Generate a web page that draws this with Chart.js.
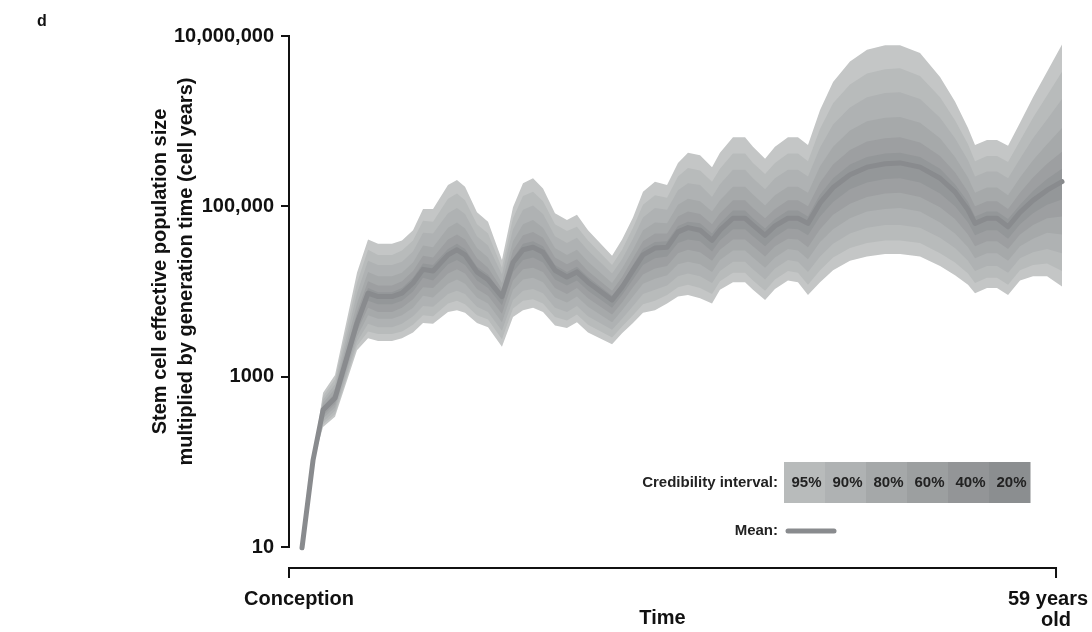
<!DOCTYPE html>
<html>
<head>
<meta charset="utf-8">
<script src="https://cdn.jsdelivr.net/npm/chart.js@4.4.1/dist/chart.umd.min.js"></script>
<style>
  html, body { margin: 0; padding: 0; background: #fff; }
  #wrap { width: 1092px; height: 632px; }
</style>
</head>
<body>
<div id="wrap"><canvas id="chartCanvas" width="1092" height="632"></canvas></div>
<script>
const timeYears = [1.0, 1.85, 2.62, 3.54, 5.23, 6.08, 6.85, 7.92, 8.69, 9.54,
  10.31, 11.08, 12.23, 12.92, 13.54, 14.46, 15.31, 16.38, 17.23, 18.0,
  18.77, 19.54, 20.46, 21.38, 22.15, 23.0, 24.85, 25.62, 26.46, 27.23,
  28.15, 29.08, 29.92, 30.69, 31.62, 32.54, 33.15, 34.15, 35.08, 35.69,
  36.62, 37.38, 38.38, 39.15, 39.92, 40.85, 41.85, 43.15, 44.46, 45.85,
  47.0, 48.54, 50.08, 51.23, 52.23, 52.77, 53.69, 54.46, 55.31, 56.23,
  57.23, 58.31, 59.46];

// all series below are log10(cell years)
const upper95 = [0.99, 2.04, 2.81, 3.02, 4.22, 4.61, 4.56, 4.56, 4.60, 4.72,
  4.97, 4.97, 5.25, 5.31, 5.23, 4.93, 4.82, 4.37, 4.99, 5.27,
  5.33, 5.21, 4.92, 4.84, 4.90, 4.72, 4.42, 4.61, 4.87, 5.17,
  5.29, 5.25, 5.51, 5.63, 5.60, 5.46, 5.63, 5.81, 5.81, 5.70,
  5.56, 5.70, 5.81, 5.81, 5.72, 6.13, 6.46, 6.70, 6.84, 6.89,
  6.89, 6.80, 6.52, 6.23, 5.92, 5.72, 5.78, 5.78, 5.71, 5.98,
  6.28, 6.58, 6.90];
const upper90 = [0.99, 2.04, 2.77, 2.97, 4.10, 4.49, 4.43, 4.43, 4.48, 4.60,
  4.83, 4.82, 5.09, 5.15, 5.07, 4.79, 4.68, 4.28, 4.86, 5.12,
  5.17, 5.06, 4.79, 4.71, 4.76, 4.60, 4.31, 4.49, 4.75, 5.02,
  5.13, 5.10, 5.35, 5.45, 5.42, 5.29, 5.44, 5.62, 5.62, 5.51,
  5.38, 5.51, 5.62, 5.62, 5.53, 5.91, 6.21, 6.43, 6.56, 6.61,
  6.62, 6.53, 6.28, 6.01, 5.73, 5.53, 5.59, 5.59, 5.52, 5.77,
  6.04, 6.30, 6.58];
const upper80 = [0.99, 2.03, 2.73, 2.91, 3.98, 4.36, 4.31, 4.31, 4.35, 4.47,
  4.69, 4.68, 4.92, 4.98, 4.91, 4.65, 4.54, 4.20, 4.73, 4.96,
  5.01, 4.91, 4.65, 4.57, 4.63, 4.48, 4.21, 4.38, 4.62, 4.87,
  4.98, 4.96, 5.19, 5.27, 5.25, 5.11, 5.26, 5.43, 5.43, 5.33,
  5.20, 5.33, 5.43, 5.43, 5.35, 5.69, 5.96, 6.16, 6.28, 6.33,
  6.34, 6.26, 6.04, 5.80, 5.54, 5.35, 5.41, 5.41, 5.33, 5.56,
  5.80, 6.02, 6.26];
const upper60 = [0.99, 2.03, 2.69, 2.86, 3.86, 4.23, 4.18, 4.18, 4.22, 4.34,
  4.54, 4.52, 4.75, 4.81, 4.74, 4.51, 4.40, 4.10, 4.59, 4.79,
  4.84, 4.75, 4.51, 4.43, 4.49, 4.35, 4.10, 4.27, 4.49, 4.72,
  4.81, 4.80, 5.02, 5.09, 5.06, 4.94, 5.07, 5.23, 5.23, 5.14,
  5.01, 5.13, 5.23, 5.23, 5.16, 5.47, 5.70, 5.89, 6.00, 6.04,
  6.05, 5.98, 5.80, 5.58, 5.34, 5.16, 5.22, 5.22, 5.13, 5.34,
  5.54, 5.73, 5.92];
const upper40 = [0.99, 2.02, 2.65, 2.81, 3.76, 4.12, 4.07, 4.07, 4.12, 4.24,
  4.42, 4.40, 4.61, 4.67, 4.61, 4.39, 4.28, 4.03, 4.48, 4.66,
  4.70, 4.63, 4.40, 4.32, 4.38, 4.24, 4.01, 4.17, 4.39, 4.59,
  4.68, 4.68, 4.88, 4.94, 4.91, 4.79, 4.92, 5.07, 5.07, 4.98,
  4.86, 4.97, 5.07, 5.07, 5.00, 5.28, 5.49, 5.66, 5.76, 5.80,
  5.81, 5.75, 5.59, 5.40, 5.17, 5.00, 5.06, 5.06, 4.97, 5.16,
  5.34, 5.50, 5.64];
const upper20 = [0.99, 2.02, 2.63, 2.77, 3.68, 4.04, 3.99, 3.99, 4.04, 4.16,
  4.33, 4.31, 4.50, 4.56, 4.50, 4.29, 4.20, 3.97, 4.39, 4.56,
  4.59, 4.53, 4.31, 4.23, 4.29, 4.17, 3.95, 4.10, 4.31, 4.50,
  4.58, 4.59, 4.77, 4.82, 4.80, 4.68, 4.80, 4.95, 4.95, 4.86,
  4.74, 4.85, 4.95, 4.95, 4.88, 5.14, 5.33, 5.49, 5.58, 5.62,
  5.63, 5.58, 5.44, 5.26, 5.05, 4.88, 4.94, 4.94, 4.85, 5.02,
  5.18, 5.32, 5.44];
const meanValues = [0.99, 2.02, 2.61, 2.75, 3.63, 3.98, 3.94, 3.94, 3.98, 4.10,
  4.26, 4.24, 4.43, 4.49, 4.43, 4.23, 4.14, 3.94, 4.34, 4.49,
  4.52, 4.46, 4.25, 4.17, 4.23, 4.11, 3.90, 4.05, 4.25, 4.43,
  4.51, 4.52, 4.70, 4.75, 4.72, 4.60, 4.72, 4.86, 4.86, 4.78,
  4.66, 4.77, 4.86, 4.86, 4.80, 5.04, 5.22, 5.37, 5.46, 5.50,
  5.51, 5.46, 5.33, 5.17, 4.96, 4.80, 4.86, 4.86, 4.76, 4.93,
  5.07, 5.19, 5.29];
const lower20 = [0.99, 2.02, 2.58, 2.71, 3.58, 3.89, 3.85, 3.85, 3.89, 4.00,
  4.16, 4.13, 4.32, 4.37, 4.31, 4.13, 4.04, 3.84, 4.23, 4.37,
  4.40, 4.34, 4.14, 4.07, 4.13, 4.01, 3.81, 3.96, 4.14, 4.31,
  4.39, 4.41, 4.57, 4.61, 4.59, 4.47, 4.60, 4.73, 4.73, 4.65,
  4.53, 4.64, 4.74, 4.73, 4.66, 4.88, 5.05, 5.20, 5.28, 5.32,
  5.33, 5.28, 5.15, 5.00, 4.81, 4.66, 4.72, 4.72, 4.62, 4.79,
  4.92, 5.02, 5.08];
const lower40 = [0.99, 2.01, 2.54, 2.68, 3.53, 3.81, 3.76, 3.76, 3.81, 3.91,
  4.05, 4.04, 4.21, 4.26, 4.21, 4.03, 3.95, 3.74, 4.13, 4.26,
  4.28, 4.23, 4.04, 3.97, 4.04, 3.92, 3.73, 3.87, 4.05, 4.20,
  4.27, 4.30, 4.45, 4.49, 4.46, 4.36, 4.49, 4.61, 4.61, 4.53,
  4.41, 4.53, 4.62, 4.61, 4.52, 4.73, 4.90, 5.03, 5.11, 5.15,
  5.16, 5.11, 4.99, 4.85, 4.67, 4.53, 4.59, 4.59, 4.50, 4.67,
  4.78, 4.86, 4.88];
const lower60 = [0.99, 2.01, 2.51, 2.64, 3.47, 3.72, 3.68, 3.68, 3.72, 3.81,
  3.95, 3.93, 4.09, 4.14, 4.09, 3.93, 3.86, 3.64, 4.02, 4.14,
  4.16, 4.11, 3.93, 3.87, 3.94, 3.82, 3.64, 3.78, 3.94, 4.09,
  4.15, 4.19, 4.32, 4.35, 4.32, 4.23, 4.37, 4.48, 4.48, 4.40,
  4.28, 4.40, 4.50, 4.48, 4.38, 4.58, 4.73, 4.86, 4.94, 4.97,
  4.98, 4.94, 4.81, 4.68, 4.52, 4.39, 4.45, 4.45, 4.36, 4.53,
  4.62, 4.69, 4.67];
const lower80 = [0.99, 2.01, 2.47, 2.60, 3.41, 3.62, 3.58, 3.58, 3.62, 3.71,
  3.83, 3.82, 3.97, 4.01, 3.97, 3.82, 3.76, 3.54, 3.90, 4.01,
  4.03, 3.98, 3.81, 3.76, 3.83, 3.71, 3.55, 3.68, 3.83, 3.97,
  4.02, 4.07, 4.18, 4.21, 4.18, 4.10, 4.24, 4.35, 4.35, 4.26,
  4.14, 4.27, 4.37, 4.35, 4.23, 4.41, 4.56, 4.68, 4.75, 4.78,
  4.78, 4.75, 4.63, 4.51, 4.36, 4.24, 4.30, 4.30, 4.22, 4.39,
  4.46, 4.50, 4.45];
const lower90 = [0.99, 2.00, 2.44, 2.56, 3.36, 3.53, 3.50, 3.50, 3.53, 3.61,
  3.72, 3.71, 3.86, 3.89, 3.85, 3.72, 3.67, 3.44, 3.80, 3.89,
  3.91, 3.86, 3.70, 3.66, 3.73, 3.61, 3.46, 3.59, 3.72, 3.85,
  3.89, 3.96, 4.05, 4.08, 4.04, 3.97, 4.12, 4.22, 4.22, 4.13,
  4.01, 4.14, 4.24, 4.22, 4.08, 4.25, 4.40, 4.51, 4.57, 4.60,
  4.60, 4.57, 4.45, 4.34, 4.21, 4.10, 4.16, 4.16, 4.08, 4.25,
  4.31, 4.33, 4.24];
const lower95 = [0.99, 2.00, 2.41, 2.53, 3.31, 3.45, 3.42, 3.42, 3.45, 3.52,
  3.63, 3.62, 3.76, 3.78, 3.75, 3.63, 3.58, 3.35, 3.70, 3.78,
  3.81, 3.76, 3.60, 3.57, 3.64, 3.52, 3.38, 3.51, 3.63, 3.75,
  3.78, 3.86, 3.94, 3.96, 3.92, 3.86, 4.02, 4.11, 4.11, 4.02,
  3.90, 4.03, 4.13, 4.11, 3.96, 4.11, 4.25, 4.36, 4.41, 4.44,
  4.44, 4.41, 4.30, 4.19, 4.08, 3.98, 4.04, 4.04, 3.96, 4.13,
  4.18, 4.18, 4.06];

const yTickValues = [10, 1000, 100000, 10000000];
const yTickLabels = ["10", "1000", "100,000", "10,000,000"];
const xTickValues = [0, 59];
const xTickLabels = ["Conception", ["59 years", "old"]];
const intervalLabels = ["95%", "90%", "80%", "60%", "40%", "20%"];
const upperBounds = [upper95, upper90, upper80, upper60, upper40, upper20];
const lowerBounds = [lower95, lower90, lower80, lower60, lower40, lower20];

// styles
const FONT = '"Liberation Sans", Arial, Helvetica, sans-serif';
const bandColors = ["#c4c6c6", "#b8bbbb", "#afb2b3", "#a6a9aa", "#9d9fa1", "#949799"];
const keyColors = ["#b8bbbb", "#afb2b3", "#a5a8a9", "#9c9fa0", "#939597", "#8b8e90"];
const meanColor = "#898b8e";

function toPoints(logs) {
  return timeYears.map((t, i) => ({ x: t, y: Math.pow(10, logs[i]) }));
}

const datasets = [];
datasets.push({
  label: "Mean",
  data: toPoints(meanValues),
  borderColor: meanColor,
  borderWidth: 5,
  borderCapStyle: "round",
  borderJoinStyle: "round",
  pointRadius: 0,
  fill: false,
  order: 0,
  clip: false,
});
intervalLabels.forEach((lab, k) => {
  datasets.push({
    label: lab + " upper",
    data: toPoints(upperBounds[k]),
    borderWidth: 0,
    pointRadius: 0,
    backgroundColor: bandColors[k],
    fill: "+1",
    order: 6 - k,
  });
  datasets.push({
    label: lab + " lower",
    data: toPoints(lowerBounds[k]),
    borderWidth: 0,
    pointRadius: 0,
    fill: false,
    order: 6 - k,
  });
});

const extras = {
  id: "extras",
  afterDraw(chart) {
    const ctx = chart.ctx;
    const xs = chart.scales.x;
    const ys = chart.scales.y;
    ctx.save();
    ctx.fillStyle = "#111";
    ctx.strokeStyle = "#111";

    // panel letter
    ctx.font = "bold 16px " + FONT;
    ctx.textAlign = "left";
    ctx.textBaseline = "alphabetic";
    ctx.fillText("d", 37, 26);

    // x axis, offset below the plot
    const axisY = ys.getPixelForValue(yTickValues[0]) + 21;
    const x0 = xs.getPixelForValue(xTickValues[0]);
    const x1 = xs.getPixelForValue(xTickValues[1]);
    ctx.lineWidth = 2;
    ctx.beginPath();
    ctx.moveTo(x0, axisY + 10);
    ctx.lineTo(x0, axisY);
    ctx.lineTo(x1, axisY);
    ctx.lineTo(x1, axisY + 10);
    ctx.stroke();

    ctx.font = "bold 20px " + FONT;
    ctx.textAlign = "center";
    ctx.fillText(xTickLabels[0], x0 + 10, axisY + 37);
    ctx.fillText(xTickLabels[1][0], x1 - 8, axisY + 37);
    ctx.fillText(xTickLabels[1][1], x1, axisY + 58);
    ctx.fillText("Time", (x0 + x1) / 2 - 10, axisY + 56);

    // y axis title
    const midY = (ys.top + ys.bottom) / 2 - 20;
    ctx.save();
    ctx.translate(160, midY);
    ctx.rotate(-Math.PI / 2);
    ctx.textBaseline = "middle";
    ctx.fillText("Stem cell effective population size", 0, 0);
    ctx.fillText("multiplied by generation time (cell years)", 0, 26);
    ctx.restore();

    // credibility interval key
    const keyX = 784, keyW = 41, keyTop = 462, keyH = 41;
    ctx.font = "bold 15px " + FONT;
    ctx.textBaseline = "middle";
    intervalLabels.forEach((lab, k) => {
      ctx.fillStyle = keyColors[k];
      ctx.fillRect(keyX + k * keyW, keyTop, keyW + 0.5, keyH);
      ctx.fillStyle = "#222";
      ctx.textAlign = "center";
      ctx.fillText(lab, keyX + k * keyW + keyW / 2 + 2, keyTop + keyH / 2);
    });
    ctx.textAlign = "right";
    ctx.fillText("Credibility interval:", keyX - 6, keyTop + keyH / 2);
    ctx.fillText("Mean:", keyX - 6, 531);
    ctx.strokeStyle = meanColor;
    ctx.lineWidth = 5;
    ctx.lineCap = "round";
    ctx.beginPath();
    ctx.moveTo(788, 531);
    ctx.lineTo(834, 531);
    ctx.stroke();
    ctx.restore();
  },
};

new Chart(document.getElementById("chartCanvas"), {
  type: "line",
  data: { datasets: datasets },
  options: {
    responsive: false,
    animation: false,
    devicePixelRatio: 1,
    layout: { padding: { top: 36, right: 30, bottom: 85, left: 0 } },
    plugins: { legend: { display: false }, tooltip: { enabled: false } },
    elements: { line: { tension: 0 } },
    scales: {
      x: {
        type: "linear",
        min: 0,
        max: 59.46,
        display: false,
      },
      y: {
        type: "logarithmic",
        min: 10,
        max: 10000000,
        afterBuildTicks: (s) => { s.ticks = yTickValues.map((v) => ({ value: v })); },
        afterFit: (s) => { s.width = 289; },
        border: { color: "#111", width: 2 },
        grid: { drawOnChartArea: false, drawTicks: true, tickLength: 8, color: "#111", lineWidth: 2 },
        ticks: {
          autoSkip: false,
          padding: 7,
          color: "#111",
          font: { family: FONT, size: 20, weight: "bold" },
          callback: (v, i) => yTickLabels[i],
        },
      },
    },
  },
  plugins: [extras],
});
</script>
</body>
</html>
